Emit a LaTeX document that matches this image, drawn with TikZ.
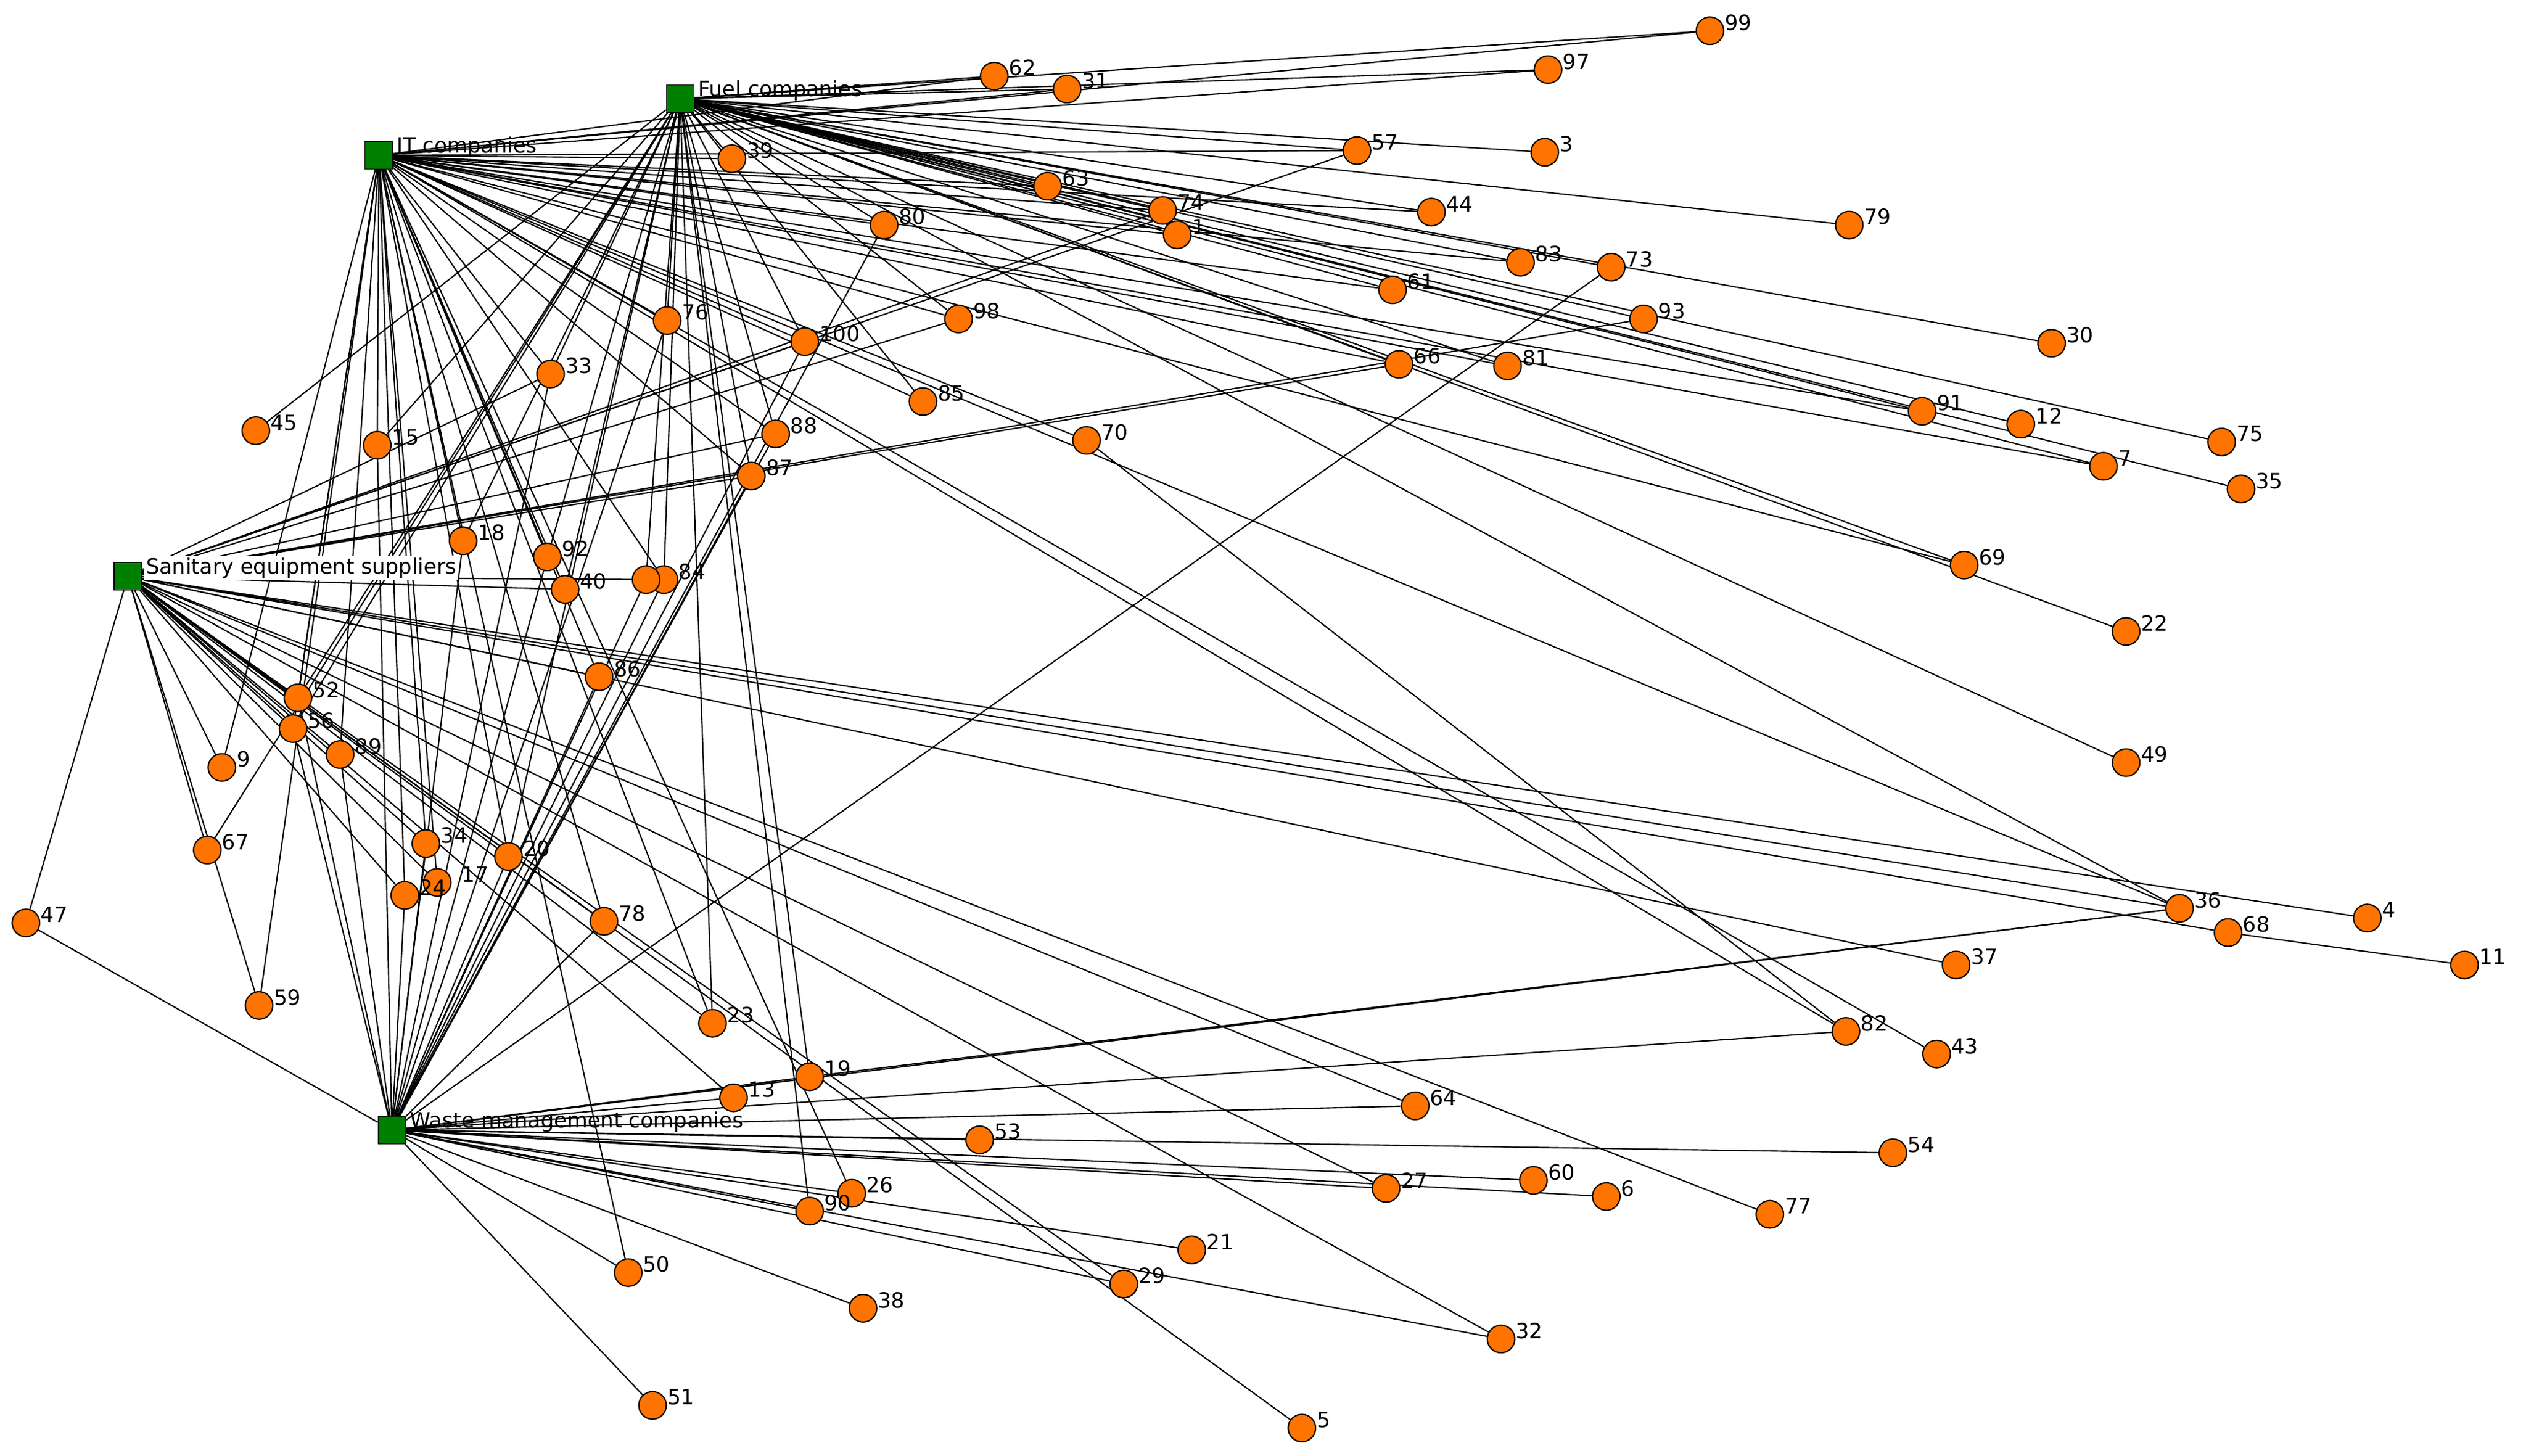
\documentclass[tikz,border=0pt]{standalone}
\usepackage{fontspec}
\setmainfont{DejaVu Sans}
\usetikzlibrary{backgrounds}
\begin{document}
\begin{tikzpicture}[x=1pt,y=-1pt,
  pt/.style={circle,draw=black,fill=orange!90!red,minimum size=17pt,inner sep=0pt,line width=0.8pt},
  hub/.style={rectangle,draw=black,fill=green!50!black,minimum size=17pt,inner sep=0pt},
  lab/.style={font=\fontsize{13}{15}\selectfont,inner sep=1pt},
  edge/.style={line width=0.8pt,black}]
\useasboundingbox (0,0) rectangle (1560,899);
\node[hub] (F) at (420,61) {}; \node[lab,anchor=west] at (430,56) {Fuel companies};
\node[hub] (I) at (234,96) {}; \node[lab,anchor=west] at (244,91) {IT companies};
\node[hub] (S) at (79,356) {}; \node[lab,anchor=west,fill=white] at (89,351) {Sanitary equipment suppliers};
\node[hub] (W) at (242,698) {}; \node[lab,anchor=west] at (252,693) {Waste management companies};
\foreach \n/\x/\y in {99/1056/19,97/956/43,62/614/47,31/659/55,57/838/93,3/954/94,39/452/98,63/647/115,74/718/130,44/884/131,79/1142/139,80/546/139,1/727/145,83/939/162,73/995/165,61/860/179,93/1015/197,98/592/197,76/412/198,100/497/211,30/1267/212,66/864/225,81/931/226,33/340/231,85/570/248,91/1187/254,12/1248/262,45/158/266,15/233/275,88/479/268,70/671/272,75/1372/273,87/464/294,7/1299/288,35/1384/302,18/286/334,92/338/344,69/1213/349,40/349/364,84/410/358,22/1313/390,86/370/418,52/184/431,56/181/450,89/210/466,9/137/474,49/1313/471,67/128/525,34/263/521,20/314/529,24/250/553,17/270/545,47/16/570,78/373/569,36/1346/561,68/1376/576,4/1462/567,11/1522/596,37/1208/596,59/160/621,23/440/632,82/1140/637,43/1196/651,19/500/665,13/453/678,64/874/683,53/605/704,54/1169/712,27/856/734,60/947/729,6/992/739,26/526/737,90/500/748,77/1093/750,21/736/772,50/388/786,29/694/793,38/533/808,32/927/827,51/403/868,5/804/882}
  \node[pt] (n\n) at (\x,\y) {};
\node[pt] (nx) at (399,358) {};
\foreach \n/\x/\y in {99/1056/19,97/956/43,62/614/47,31/659/55,57/838/93,3/954/94,39/452/98,63/647/115,74/718/130,44/884/131,79/1142/139,80/546/139,1/727/145,83/939/162,73/995/165,61/860/179,93/1015/197,98/592/197,76/412/198,100/497/211,30/1267/212,66/864/225,81/931/226,33/340/231,85/570/248,91/1187/254,12/1248/262,45/158/266,15/233/275,88/479/268,70/671/272,75/1372/273,87/464/294,7/1299/288,35/1384/302,18/286/334,92/338/344,69/1213/349,40/349/364,84/410/358,22/1313/390,86/370/418,52/184/431,56/181/450,89/210/466,9/137/474,49/1313/471,67/128/525,34/263/521,20/314/529,24/250/553,17/276/545,47/16/570,78/373/569,36/1346/561,68/1376/576,4/1462/567,11/1522/596,37/1208/596,59/160/621,23/440/632,82/1140/637,43/1196/651,19/500/665,13/453/678,64/874/683,53/605/704,54/1169/712,27/856/734,60/947/729,6/992/739,26/526/737,90/500/748,77/1093/750,21/736/772,50/388/786,29/694/793,38/533/808,32/927/827,51/403/868,5/804/882}
  \node[lab,anchor=west] at (\x+8,\y-5) {\n};
\begin{pgfonlayer}{background}
\foreach \a/\b in {n99/F,n99/I,n97/F,n97/I,n62/F,n62/I,n31/F,n31/I,n57/F,n57/I,n57/S,n3/F,n39/F,n39/I,n63/F,n63/I,n74/F,n74/I,n74/S,n44/F,n44/I,n79/F,n80/F,n80/I,n80/W,n1/F,n1/I,n83/F,n83/I,n73/F,n73/W,n61/F,n61/I,n93/F,n93/S,n98/F,n98/I,n98/S,n76/F,n76/I,n76/W,n100/F,n100/I,n100/S,n100/W,n30/F,n66/F,n66/I,n66/S,n81/F,n81/I,n33/F,n33/I,n33/S,n33/W,n85/I,n85/F,n91/F,n91/I,n12/F,n45/F,n15/F,n15/I,n15/W,n88/F,n88/I,n88/S,n88/W,n70/I,n70/n82,n75/F,n87/F,n87/I,n87/S,n87/W,n7/F,n7/I,n35/F,n18/F,n18/I,n18/W,n92/F,n92/I,n92/W,n69/F,n69/I,n40/S,n40/I,n40/F,n84/S,n84/F,n84/I,n84/W,nx/F,nx/W,n22/F,n86/S,n86/I,n86/W,n52/S,n52/I,n52/F,n52/W,n56/S,n56/I,n56/F,n56/W,n89/S,n89/I,n89/W,n9/S,n9/I,n49/F,n67/S,n67/F,n34/S,n34/I,n34/W,n20/S,n20/I,n20/F,n20/W,n24/S,n24/I,n24/W,n17/S,n17/I,n47/S,n47/W,n78/I,n78/S,n78/W,n36/F,n36/I,n36/S,n36/W,n68/S,n68/n11,n4/S,n37/S,n59/S,n59/I,n23/S,n23/I,n23/F,n82/I,n82/W,n43/I,n19/F,n19/W,n19/n36,n13/S,n13/W,n64/S,n64/W,n53/W,n54/W,n27/W,n27/S,n60/W,n6/W,n26/W,n26/I,n90/W,n90/F,n77/S,n21/W,n50/W,n50/I,n29/W,n29/S,n38/W,n32/W,n32/S,n51/W,n5/S}
  \draw[edge] (\a) -- (\b);
\end{pgfonlayer}
\end{tikzpicture}
\end{document}
